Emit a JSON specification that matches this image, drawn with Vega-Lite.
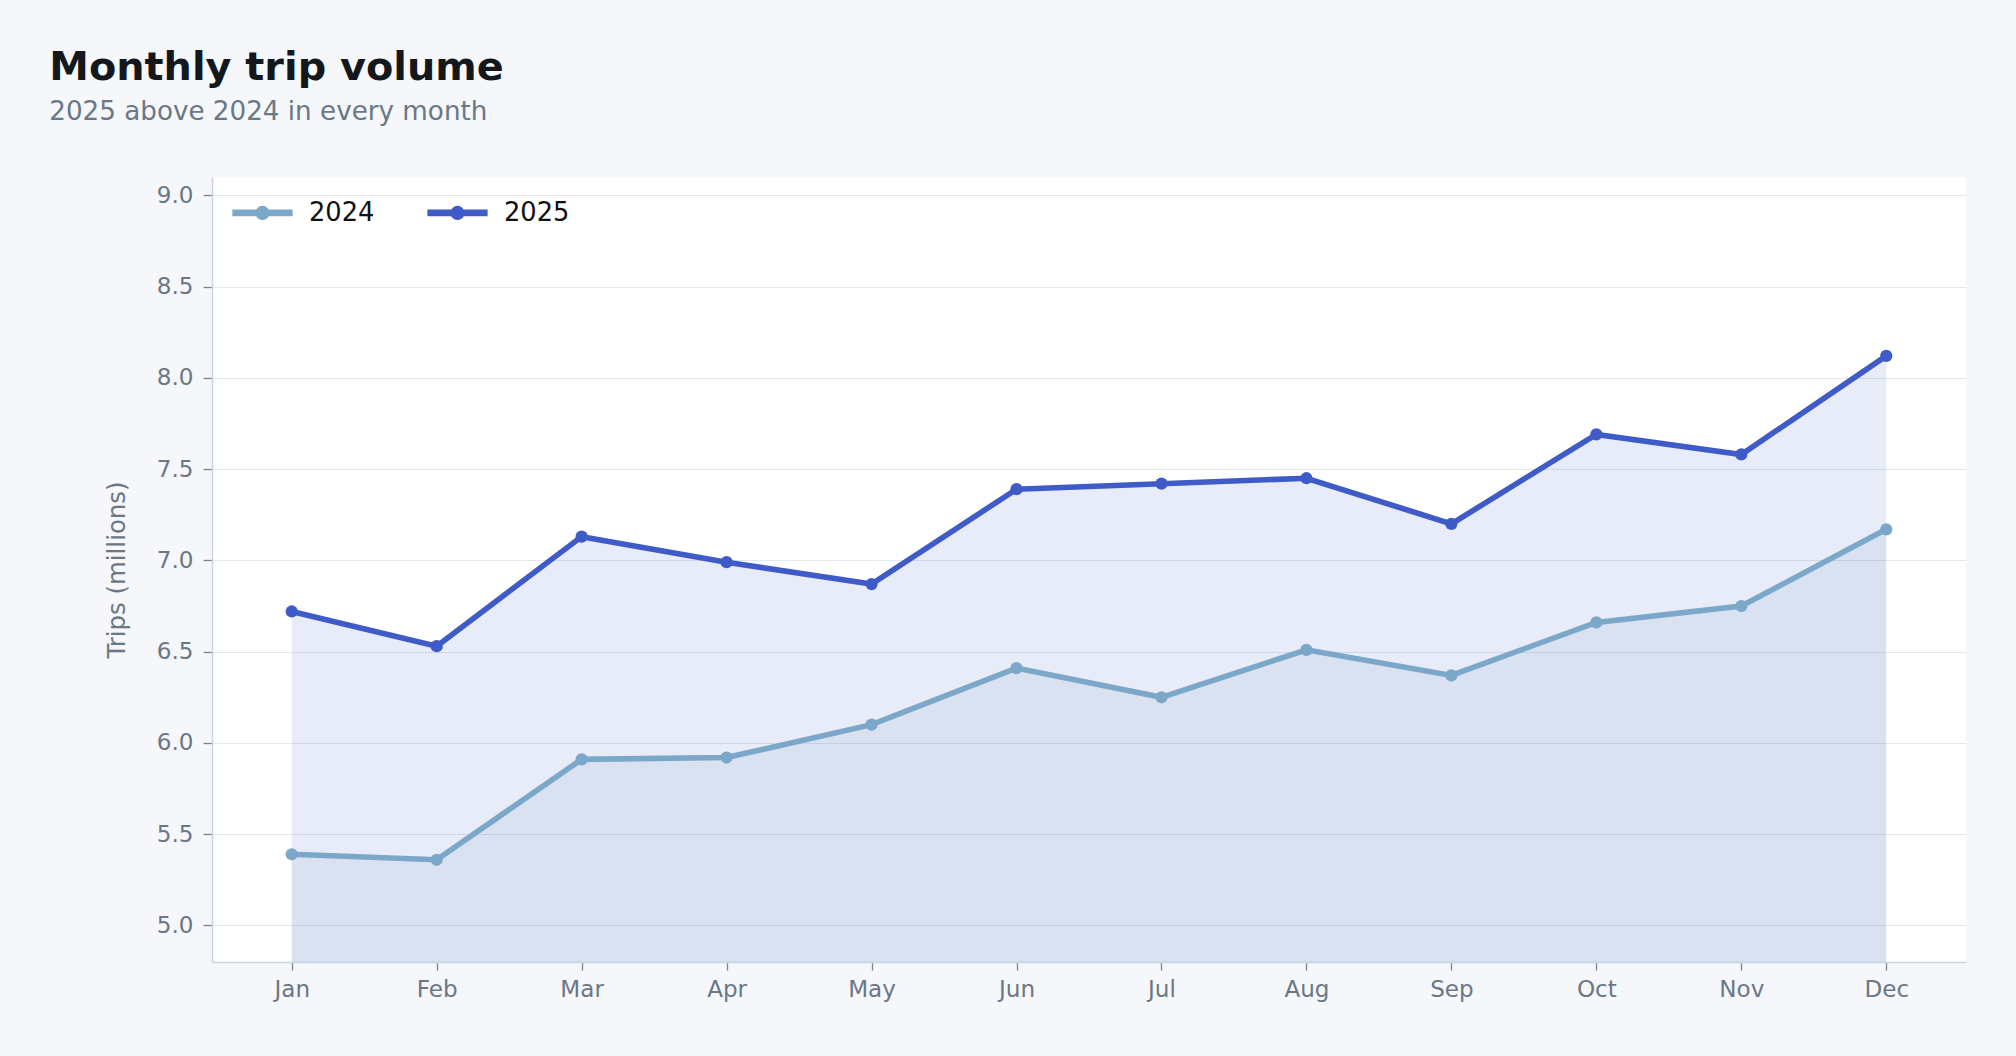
{
  "$schema": "https://vega.github.io/schema/vega-lite/v6.json",
  "autosize": {"type": "none"},
  "width": 1754,
  "height": 785,
  "padding": {"left": 212, "top": 177, "right": 50, "bottom": 94},
  "background": "#f5f7fb",
  "title": {
    "text": "Monthly trip volume",
    "subtitle": "2025 above 2024 in every month",
    "anchor": "start",
    "dx": -55,
    "offset": 51,
    "font": "DejaVu Sans",
    "fontSize": 39.8,
    "fontWeight": "bold",
    "color": "#14171c",
    "subtitleFont": "DejaVu Sans",
    "subtitleFontSize": 26.2,
    "subtitleColor": "#6b7785",
    "subtitlePadding": 10
  },
  "data": {
    "values": [
      {"month": "Jan", "year": "2024", "trips": 5.39},
      {"month": "Feb", "year": "2024", "trips": 5.36},
      {"month": "Mar", "year": "2024", "trips": 5.91},
      {"month": "Apr", "year": "2024", "trips": 5.92},
      {"month": "May", "year": "2024", "trips": 6.10},
      {"month": "Jun", "year": "2024", "trips": 6.41},
      {"month": "Jul", "year": "2024", "trips": 6.25},
      {"month": "Aug", "year": "2024", "trips": 6.51},
      {"month": "Sep", "year": "2024", "trips": 6.37},
      {"month": "Oct", "year": "2024", "trips": 6.66},
      {"month": "Nov", "year": "2024", "trips": 6.75},
      {"month": "Dec", "year": "2024", "trips": 7.17},
      {"month": "Jan", "year": "2025", "trips": 6.72},
      {"month": "Feb", "year": "2025", "trips": 6.53},
      {"month": "Mar", "year": "2025", "trips": 7.13},
      {"month": "Apr", "year": "2025", "trips": 6.99},
      {"month": "May", "year": "2025", "trips": 6.87},
      {"month": "Jun", "year": "2025", "trips": 7.39},
      {"month": "Jul", "year": "2025", "trips": 7.42},
      {"month": "Aug", "year": "2025", "trips": 7.45},
      {"month": "Sep", "year": "2025", "trips": 7.20},
      {"month": "Oct", "year": "2025", "trips": 7.69},
      {"month": "Nov", "year": "2025", "trips": 7.58},
      {"month": "Dec", "year": "2025", "trips": 8.12}
    ]
  },
  "encoding": {
    "x": {
      "field": "month",
      "type": "ordinal",
      "sort": ["Jan", "Feb", "Mar", "Apr", "May", "Jun", "Jul", "Aug", "Sep", "Oct", "Nov", "Dec"],
      "scale": {"type": "point", "padding": 0.55},
      "axis": {
        "title": null,
        "labelAngle": 0,
        "grid": false,
        "tickSize": 8,
        "labelPadding": 8
      }
    },
    "y": {
      "field": "trips",
      "type": "quantitative",
      "scale": {"domain": [4.8, 9.1], "nice": false, "zero": false},
      "axis": {
        "title": "Trips (millions)",
        "values": [5, 5.5, 6, 6.5, 7, 7.5, 8, 8.5, 9],
        "format": ".1f",
        "grid": true,
        "tickSize": 9,
        "labelPadding": 10,
        "titlePadding": 27
      }
    },
    "color": {
      "field": "year",
      "type": "nominal",
      "scale": {"domain": ["2024", "2025"], "range": ["#7ba7c9", "#3f5bc8"]},
      "legend": {
        "title": null,
        "orient": "none",
        "direction": "horizontal",
        "legendX": 20,
        "legendY": 5,
        "symbolType": "M-1,-0.09H1V0.09H-1Z M0.215,0A0.215,0.215 0 1,1 -0.215,0A0.215,0.215 0 1,1 0.215,0Z",
        "symbolSize": 3450,
        "labelFont": "DejaVu Sans",
        "labelFontSize": 25.7,
        "labelColor": "#111111",
        "labelOffset": 16,
        "columnPadding": 50,
        "encode": {
          "symbols": {
            "update": {
              "fill": {"scale": "color", "field": "value"},
              "stroke": {"value": "transparent"},
              "opacity": {"value": 1},
              "fillOpacity": {"value": 1}
            }
          }
        }
      }
    }
  },
  "layer": [
    {
      "mark": {"type": "area", "fillOpacity": 0.12},
      "encoding": {
        "y2": {"datum": 4.8}
      }
    },
    {
      "mark": {"type": "line", "strokeWidth": 5.6, "point": {"filled": true, "size": 150, "opacity": 1}}
    }
  ],
  "config": {
    "font": "DejaVu Sans",
    "view": {"fill": "#ffffff", "stroke": null},
    "axis": {
      "labelFont": "DejaVu Sans",
      "labelFontSize": 23.1,
      "labelColor": "#6b7785",
      "titleFont": "DejaVu Sans",
      "titleFontSize": 24.4,
      "titleFontWeight": "normal",
      "titleColor": "#6b7785",
      "domainColor": "#cbd5e1",
      "domainWidth": 1.5,
      "tickColor": "#7a8694",
      "tickWidth": 1.3,
      "gridColor": "#e2e8f0",
      "gridWidth": 1.2
    }
  }
}
